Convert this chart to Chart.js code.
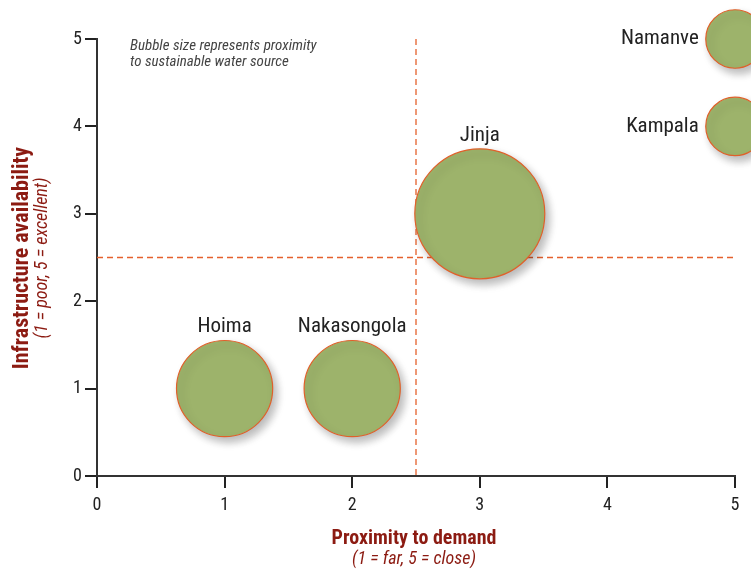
<!DOCTYPE html>
<html><head><meta charset="utf-8">
<script src="https://cdn.jsdelivr.net/npm/chart.js@4/dist/chart.umd.min.js"></script>
<style>html,body{margin:0;padding:0;background:#fff}#wrap{width:751px;height:569px}</style>
</head><body><div id="wrap"><canvas id="c" width="751" height="569"></canvas></div>
<script>
const sites = ["Hoima", "Nakasongola", "Jinja", "Namanve", "Kampala"];
const proximityToDemand = [1, 2, 3, 5, 5];
const infrastructure = [1, 1, 3, 5, 4];
const waterProximity = [3.7, 3.7, 5, 2.25, 2.25];
const xTicks = [0, 1, 2, 3, 4, 5];
const yTicks = [0, 1, 2, 3, 4, 5];
const labelPos = ["top", "top", "top", "left", "left"];
const threshold = 2.5;

const FONT = "'Liberation Sans Narrow','Roboto Condensed','DejaVu Sans Condensed',Roboto,sans-serif";
const RED = '#8c1b12';
const R_SCALE = 13;

const overlay = {
  id: 'overlay',
  beforeDatasetsDraw(chart) {
    const {ctx, chartArea: a, scales: {x, y}} = chart;
    ctx.save();
    ctx.strokeStyle = '#e5602c';
    ctx.lineWidth = 1.3;
    ctx.setLineDash([6, 4]);
    const px = x.getPixelForValue(threshold), py = y.getPixelForValue(threshold);
    ctx.beginPath(); ctx.moveTo(px, a.top); ctx.lineTo(px, a.bottom); ctx.stroke();
    ctx.beginPath(); ctx.moveTo(a.left, py); ctx.lineTo(a.right, py); ctx.stroke();
    ctx.restore();
  },
  beforeDatasetDraw(chart) {
    const ctx = chart.ctx;
    ctx.save();
    ctx.shadowColor = 'rgba(0,0,0,0.28)';
    ctx.shadowBlur = 9;
    ctx.shadowOffsetX = 4;
    ctx.shadowOffsetY = 5;
  },
  afterDatasetDraw(chart) { chart.ctx.restore(); },
  afterDatasetsDraw(chart) {
    const {ctx, scales: {x, y}} = chart;
    const meta = chart.getDatasetMeta(0);
    ctx.save();
    ctx.fillStyle = '#222';
    ctx.font = '21px ' + FONT;
    meta.data.forEach((el, i) => {
      const r = waterProximity[i] * R_SCALE;
      if (labelPos[i] === 'top') {
        ctx.textAlign = 'center'; ctx.textBaseline = 'bottom';
        ctx.fillText(sites[i], el.x, el.y - r - 3);
      } else {
        ctx.textAlign = 'right'; ctx.textBaseline = 'middle';
        ctx.fillText(sites[i], el.x - r - 7, el.y);
      }
    });
    // note
    ctx.fillStyle = '#444';
    ctx.font = 'italic 15px ' + FONT;
    ctx.textAlign = 'left'; ctx.textBaseline = 'alphabetic';
    ctx.fillText('Bubble size represents proximity', 130, 50);
    ctx.fillText('to sustainable water source', 130, 66);
    // x title
    const cx = (x.left + x.right) / 2 - 2;
    ctx.fillStyle = RED;
    ctx.textAlign = 'center';
    ctx.font = 'bold 20px ' + FONT;
    ctx.fillText('Proximity to demand', cx, 544);
    ctx.font = 'italic 18px ' + FONT;
    ctx.fillText('(1 = far, 5 = close)', cx, 564);
    // y title
    ctx.save();
    ctx.translate(0, 258);
    ctx.rotate(-Math.PI / 2);
    ctx.font = 'bold 22px ' + FONT;
    ctx.fillText('Infrastructure availability', 0, 28);
    ctx.font = 'italic 18px ' + FONT;
    ctx.fillText('(1 = poor, 5 = excellent)', 0, 47);
    ctx.restore();
    ctx.restore();
  }
};

new Chart(document.getElementById('c'), {
  type: 'bubble',
  data: {
    datasets: [{
      data: sites.map((s, i) => ({x: proximityToDemand[i], y: infrastructure[i], r: waterProximity[i] * R_SCALE})),
      backgroundColor: '#9db36b',
      borderColor: '#e0602a',
      borderWidth: 1.2,
      hoverRadius: 0,
      clip: false
    }]
  },
  options: {
    responsive: false,
    animation: false,
    layout: {autoPadding: false, padding: {top: 39, right: 16, left: 0, bottom: 0}},
    plugins: {legend: {display: false}, tooltip: {enabled: false}},
    scales: {
      x: {
        type: 'linear', min: 0, max: 5,
        afterBuildTicks: s => { s.ticks = xTicks.map(v => ({value: v})); },
        afterFit: s => { s.height = 93; },
        grid: {drawOnChartArea: false, tickLength: 12, color: '#222', lineWidth: 2},
        border: {color: '#333', width: 2},
        ticks: {color: '#222', font: {family: FONT, size: 18}, padding: 7}
      },
      y: {
        type: 'linear', min: 0, max: 5,
        afterBuildTicks: s => { s.ticks = yTicks.map(v => ({value: v})); },
        afterFit: s => { s.width = 97; },
        grid: {drawOnChartArea: false, tickLength: 12, color: '#222', lineWidth: 2},
        border: {color: '#333', width: 2},
        ticks: {color: '#222', font: {family: FONT, size: 18}, padding: 3}
      }
    }
  },
  plugins: [overlay]
});
</script></body></html>
